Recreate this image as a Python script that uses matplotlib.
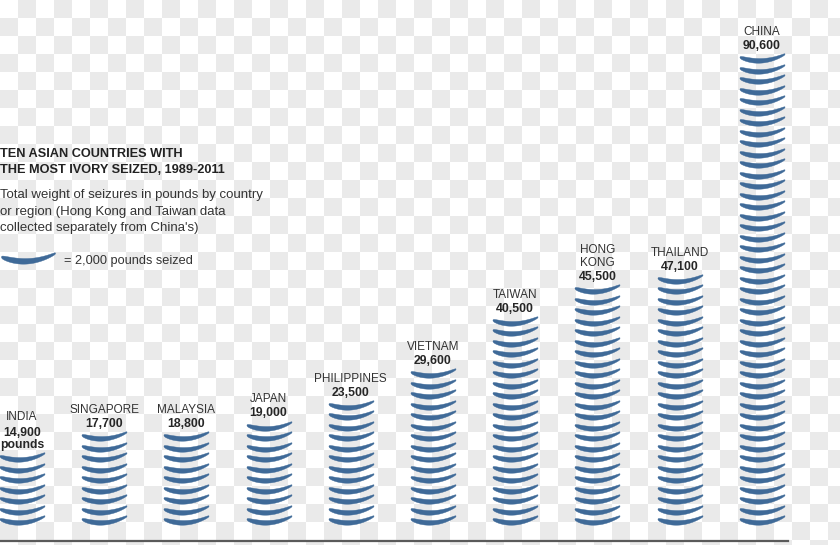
import numpy as np
import matplotlib
matplotlib.use('Agg')
import matplotlib.pyplot as plt
from matplotlib.path import Path

countries = ['INDIA', 'SINGAPORE', 'MALAYSIA', 'JAPAN', 'PHILIPPINES',
             'VIETNAM', 'TAIWAN', 'HONG\nKONG', 'THAILAND', 'CHINA']
pounds = [14900, 17700, 18800, 19000, 23500, 29600, 40500, 45500, 47100, 90600]
value_labels = ['14,900\npounds', '17,700', '18,800', '19,000', '23,500',
                '29,600', '40,500', '45,500', '47,100', '90,600']
unit = 2000  # one tusk arc

plt.rcParams['font.family'] = ['Liberation Sans', 'DejaVu Sans']

W, H = 840, 545
fig = plt.figure(figsize=(W / 100, H / 100), dpi=100)

# checkerboard background (transparent png look)
sq = 18
yy, xx = np.mgrid[0:H, 0:W]
odd = ((yy // sq + xx // sq) % 2)[..., None]
bg = np.where(odd == 1, np.array([0.92, 0.92, 0.92]), np.array([1.0, 1.0, 1.0]))
fig.figimage(bg, 0, 0, origin='upper', zorder=-5)

def px(x, y):
    return x / W, 1 - y / H

# crescent shaped marker
t = np.linspace(-1, 1, 80)
center = 0.22 * t**2 + 0.07 * t
thick = 0.17 * (1 - t**2)**0.4 * (1 - 0.3 * t) + 0.03
lower = np.column_stack([t, center - thick / 2])
upper = np.column_stack([t[::-1], (center + thick / 2)[::-1]])
verts = np.vstack([lower, upper])
verts[:, 1] -= (verts[:, 1].max() + verts[:, 1].min()) / 2
arc = Path(np.vstack([verts, verts[:1]]), closed=True)

blue = '#3f6a98'

ax = fig.add_axes([0, 4 / H, 788 / W, 1 - 4 / H])
ax.set_zorder(2)
ax.patch.set_visible(False)
for s in ['top', 'left', 'right']:
    ax.spines[s].set_visible(False)
ax.spines['bottom'].set_color('#5a5a5a')
ax.spines['bottom'].set_linewidth(1.6)
ax.set_xticks([])
ax.set_yticks([])
step = 82.2
ax.set_xlim(-22 / step, -22 / step + 788 / step)
ppp = 10.5 / unit  # pixels per pound
ax.set_ylim(-3000, -3000 + 541 / ppp)

xs, ys = [], []
for i, p in enumerate(pounds):
    n = round(p / unit)
    for k in range(n):
        xs.append(i)
        ys.append(unit * k + unit / 2)
ax.scatter(xs, ys, marker=arc, s=(45 * 0.72)**2, color=blue, linewidths=0.3,
           edgecolors=blue, clip_on=False, zorder=3)

for i, (name, p, val) in enumerate(zip(countries, pounds, value_labels)):
    n = round(p / unit)
    top = unit * (n - 1) + unit / 2
    ax.annotate(val, (i, top), xytext=(0, 6), textcoords='offset pixels',
                ha='center', va='bottom', fontsize=8.8, fontweight='bold',
                color='#262626', linespacing=1.05, annotation_clip=False)
    nval = val.count('\n') + 1
    ax.annotate(name, (i, top), xytext=(0, 6 + 14 * nval), textcoords='offset pixels',
                ha='center', va='bottom', fontsize=8.5, color='#333333',
                linespacing=1.1, annotation_clip=False)

# title and notes
fig.text(*px(0, 148), 'TEN ASIAN COUNTRIES WITH\nTHE MOST IVORY SEIZED, 1989-2011',
         ha='left', va='top', fontsize=9.2, fontweight='bold', color='#222222',
         linespacing=1.45)
fig.text(*px(0, 189), "Total weight of seizures in pounds by country\n"
         "or region (Hong Kong and Taiwan data\ncollected separately from China's)",
         ha='left', va='top', fontsize=9.5, color='#333333', linespacing=1.5)
fig.text(*px(64, 263.5), '= 2,000 pounds seized', ha='left', va='baseline',
         fontsize=9.2, color='#333333')
ax.scatter([28.5 / W], [1 - 258 / H], marker=arc, s=(54 * 0.72)**2, color=blue,
           linewidths=0.3, edgecolors=blue, transform=fig.transFigure,
           clip_on=False, zorder=3)

fig.savefig('out.png', dpi=100)
